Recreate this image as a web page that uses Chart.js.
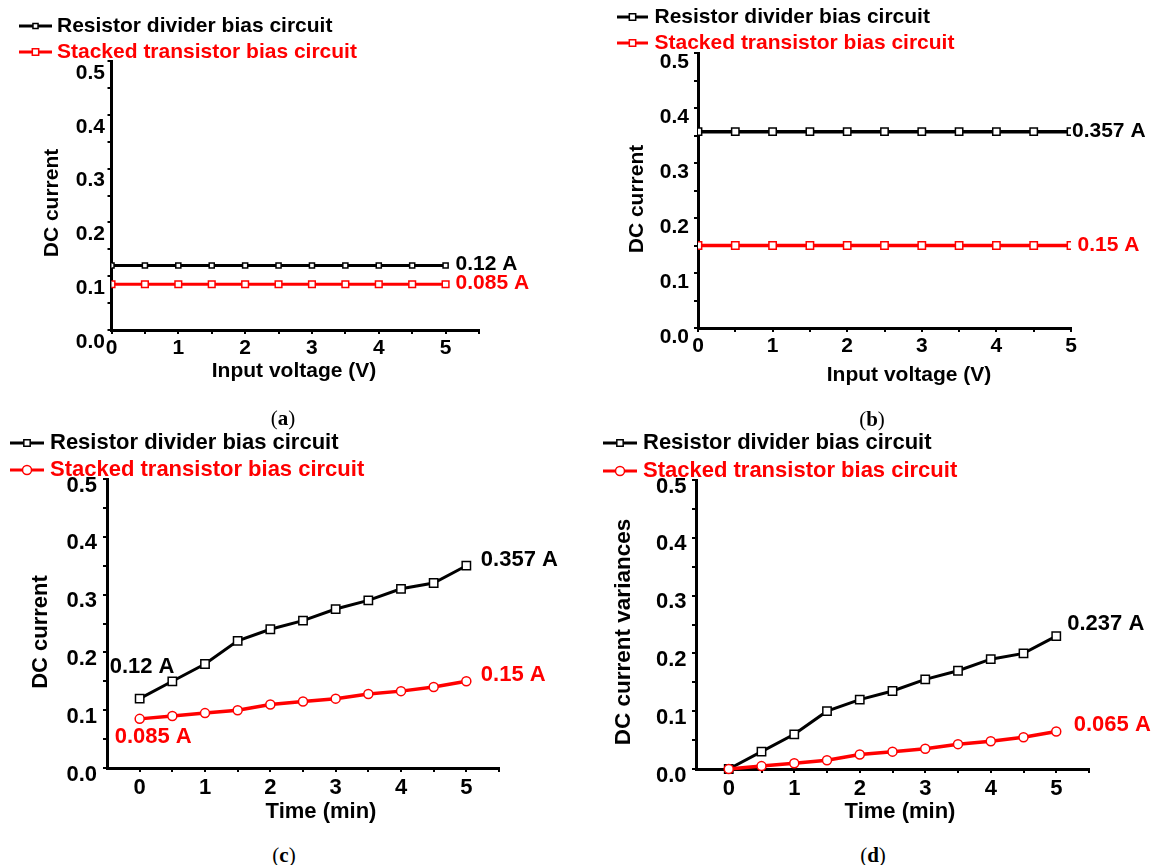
<!DOCTYPE html>
<html lang="en">
<head>
  <meta charset="UTF-8">
  <title>DC current of the two bias circuits</title>
  <script src="https://cdn.jsdelivr.net/npm/chart.js"></script>
  <style>
    body { margin: 0; background: #fff; }
    #fig { position: relative; width: 1156px; height: 865px; overflow: hidden; }
    #fig canvas { position: absolute; }
    .cap { position: absolute; width: 80px; text-align: center; line-height: 24px;
           font: 21px 'Liberation Serif', 'Times New Roman', serif; color: #000; }
  </style>
</head>
<body>
<div id="fig">
  <canvas id="chartA" width="578" height="400" style="left:0;top:0"></canvas>
  <canvas id="chartB" width="578" height="400" style="left:578px;top:0"></canvas>
  <canvas id="chartC" width="578" height="415" style="left:0;top:425px"></canvas>
  <canvas id="chartD" width="578" height="415" style="left:578px;top:425px"></canvas>
  <div class="cap" style="left:243px;top:406px">(<b>a</b>)</div>
  <div class="cap" style="left:832px;top:407px">(<b>b</b>)</div>
  <div class="cap" style="left:244px;top:843px">(<b>c</b>)</div>
  <div class="cap" style="left:833px;top:843px">(<b>d</b>)</div>
</div>

<script>
  // series names
  const seriesNames = ['Resistor divider bias circuit', 'Stacked transistor bias circuit'];

  // x positions (input voltage in V, or time in min)
  const xSteps = [0, 0.5, 1, 1.5, 2, 2.5, 3, 3.5, 4, 4.5, 5];

  // (a) DC current vs input voltage
  const aResistor = [0.12, 0.12, 0.12, 0.12, 0.12, 0.12, 0.12, 0.12, 0.12, 0.12, 0.12];
  const aStacked = [0.085, 0.085, 0.085, 0.085, 0.085, 0.085, 0.085, 0.085, 0.085, 0.085, 0.085];

  // (b) DC current vs input voltage
  const bResistor = [0.357, 0.357, 0.357, 0.357, 0.357, 0.357, 0.357, 0.357, 0.357, 0.357, 0.357];
  const bStacked = [0.15, 0.15, 0.15, 0.15, 0.15, 0.15, 0.15, 0.15, 0.15, 0.15, 0.15];

  // (c) DC current vs time
  const cResistor = [0.12, 0.15, 0.18, 0.22, 0.24, 0.255, 0.275, 0.29, 0.31, 0.32, 0.35];
  const cStacked = [0.085, 0.09, 0.095, 0.1, 0.11, 0.115, 0.12, 0.128, 0.133, 0.14, 0.15];

  // (d) DC current variances vs time
  const dResistor = [0, 0.03, 0.06, 0.1, 0.12, 0.135, 0.155, 0.17, 0.19, 0.2, 0.23];
  const dStacked = [0, 0.005, 0.01, 0.015, 0.025, 0.03, 0.035, 0.043, 0.048, 0.055, 0.065];

  // tick positions (labels only on the whole steps)
  const yTicks = [0, 0.05, 0.1, 0.15, 0.2, 0.25, 0.3, 0.35, 0.4, 0.45, 0.5];
  const xTicksLong = [0, 0.5, 1, 1.5, 2, 2.5, 3, 3.5, 4, 4.5, 5, 5.5];
  const xTicksShort = [0, 0.5, 1, 1.5, 2, 2.5, 3, 3.5, 4, 4.5, 5];

  const FAMILY = "'Liberation Sans', Arial, Helvetica, sans-serif";
  Chart.defaults.font.family = FAMILY;
  Chart.defaults.font.weight = 'bold';
  Chart.defaults.color = '#000';

  function marker(ctx, style, r, x, y) {
    if (Chart.helpers && Chart.helpers.drawPoint) {
      Chart.helpers.drawPoint(ctx, {pointStyle: style, radius: r, borderWidth: 1.5, rotation: 0}, x, y);
      return;
    }
    ctx.beginPath();
    if (style === 'circle') ctx.arc(x, y, r, 0, Math.PI * 2);
    else { const s = r * Math.SQRT1_2; ctx.rect(x - s, y - s, 2 * s, 2 * s); }
    ctx.fill(); ctx.stroke();
  }

  function makePanel(canvasId, p) {
    const pts = ys => xSteps.map((x, i) => ({x: x, y: ys[i]}));
    const colors = ['#000000', '#ff0000'];
    const styles = ['rect', p.redStyle];
    const radii = [p.blackR, p.redR];
    const series = [p.black, p.red];

    const datasets = series.map((ys, i) => ({
      label: seriesNames[i],
      data: pts(ys),
      borderColor: colors[i],
      backgroundColor: '#fff',
      borderWidth: p.lw[i],
      pointStyle: styles[i],
      pointRadius: radii[i],
      pointHoverRadius: radii[i],
      pointBorderWidth: 1.5,
      pointBackgroundColor: '#fff',
      pointBorderColor: colors[i],
      order: 1 - i,
      clip: p.clip
    }));

    // legend, value notes and axis titles drawn on top of the chart
    const textPlugin = {
      id: 'panelText',
      afterDraw(chart) {
        const ctx = chart.ctx;
        const xs = chart.scales.x, ys = chart.scales.y;
        ctx.save();
        ctx.font = 'bold ' + p.font + 'px ' + FAMILY;
        ctx.textBaseline = 'middle';
        ctx.textAlign = 'left';

        chart.data.datasets.forEach((ds, i) => {
          const y = p.legend.rows[i];
          ctx.strokeStyle = ds.borderColor;
          ctx.lineWidth = 3;
          ctx.beginPath();
          ctx.moveTo(p.legend.x1, y);
          ctx.lineTo(p.legend.x2, y);
          ctx.stroke();
          ctx.fillStyle = '#fff';
          ctx.lineWidth = 1.5;
          marker(ctx, ds.pointStyle, Math.min(ds.pointRadius, 4.5), (p.legend.x1 + p.legend.x2) / 2, y);
          ctx.fillStyle = ds.borderColor;
          ctx.fillText(ds.label, p.legend.tx, y);
        });

        p.notes.forEach(n => {
          ctx.fillStyle = n.color;
          ctx.fillText(n.text, xs.getPixelForValue(n.at[0]) + n.dx, ys.getPixelForValue(n.at[1]) + n.dy);
        });

        ctx.fillStyle = '#000';
        ctx.textAlign = 'center';
        ctx.fillText(p.xTitle.text, p.xTitle.x, p.xTitle.y);
        ctx.translate(p.yTitle.x, p.yTitle.y);
        ctx.rotate(-Math.PI / 2);
        ctx.font = 'bold ' + p.yTitle.size + 'px ' + FAMILY;
        ctx.fillText(p.yTitle.text, 0, 0);
        ctx.restore();
      }
    };

    const canvas = document.getElementById(canvasId);
    const a = p.area;
    const axisGrid = {
      display: true, drawOnChartArea: false, drawTicks: true,
      tickLength: 4, tickWidth: 2, tickColor: '#000', color: '#000', lineWidth: 2
    };

    return new Chart(canvas.getContext('2d'), {
      type: 'line',
      data: {datasets: datasets},
      plugins: [textPlugin],
      options: {
        responsive: false,
        animation: false,
        events: [],
        layout: {
          padding: {left: 0, top: a.T, right: canvas.width - a.R, bottom: canvas.height - a.B - 60}
        },
        plugins: {legend: {display: false}, tooltip: {enabled: false}},
        scales: {
          x: {
            type: 'linear',
            position: 'bottom',
            min: p.xMin,
            max: p.xMax,
            afterBuildTicks: s => { s.ticks = p.xTicks.map(v => ({value: v})); },
            afterFit: s => { s.height = 60; },
            border: {display: true, color: '#000', width: 3},
            grid: axisGrid,
            ticks: {
              autoSkip: false, maxRotation: 0, minRotation: 0, padding: p.xPad,
              font: {size: p.font, weight: 'bold'}, color: '#000',
              callback: v => (Math.abs(v - Math.round(v)) < 1e-6 ? String(Math.round(v)) : '')
            }
          },
          y: {
            type: 'linear',
            min: 0,
            max: 0.5,
            afterBuildTicks: s => { s.ticks = yTicks.map(v => ({value: v})); },
            afterFit: s => { s.width = a.L; },
            border: {display: true, color: '#000', width: 3},
            grid: axisGrid,
            ticks: {
              autoSkip: false, padding: p.yPad, labelOffset: p.yLabelOffset,
              font: {size: p.font, weight: 'bold'}, color: '#000',
              callback: v => (Math.abs(v * 10 - Math.round(v * 10)) < 1e-6 ? v.toFixed(1) : '')
            }
          }
        }
      }
    });
  }

  makePanel('chartA', {
    black: aResistor, red: aStacked, redStyle: 'rect', blackR: 3.6, redR: 4.7, lw: [3, 3],
    area: {L: 111.5, R: 479, T: 61, B: 330}, xMin: 0, xMax: 5.5, xTicks: xTicksLong,
    font: 21, xPad: 2, yPad: 2.5, yLabelOffset: 12, clip: 0,
    legend: {x1: 19, x2: 52, tx: 57, rows: [26, 52]},
    notes: [
      {text: '0.12 A', color: '#000', at: [5, aResistor[10]], dx: 10, dy: -1},
      {text: '0.085 A', color: '#ff0000', at: [5, aStacked[10]], dx: 10, dy: -1}
    ],
    xTitle: {text: 'Input voltage (V)', x: 294, y: 371},
    yTitle: {text: 'DC current', x: 52, y: 203, size: 21}
  });

  makePanel('chartB', {
    black: bResistor, red: bStacked, redStyle: 'rect', blackR: 5.2, redR: 5.2, lw: [3.5, 3.5],
    area: {L: 120, R: 493, T: 53, B: 328}, xMin: 0, xMax: 5, xTicks: xTicksShort,
    font: 21, xPad: 2, yPad: 5, yLabelOffset: 9, clip: 0,
    legend: {x1: 39, x2: 70, tx: 76.5, rows: [17, 43]},
    notes: [
      {text: '0.357 A', color: '#000', at: [5, bResistor[10]], dx: 1, dy: 0},
      {text: '0.15 A', color: '#ff0000', at: [5, bStacked[10]], dx: 6.5, dy: 0}
    ],
    xTitle: {text: 'Input voltage (V)', x: 331, y: 375},
    yTitle: {text: 'DC current', x: 59, y: 199, size: 21}
  });

  makePanel('chartC', {
    black: cResistor, red: cStacked, redStyle: 'circle', blackR: 5.9, redR: 4.5, lw: [3, 3.5],
    area: {L: 107, R: 499, T: 54, B: 343}, xMin: -0.5, xMax: 5.5, xTicks: xTicksLong,
    font: 22, xPad: 3, yPad: 6, yLabelOffset: 6.5, clip: false,
    legend: {x1: 10, x2: 44, tx: 50, rows: [18, 45]},
    notes: [
      {text: '0.357 A', color: '#000', at: [5, cResistor[10]], dx: 14.5, dy: -6},
      {text: '0.12 A', color: '#000', at: [0, cResistor[0]], dx: -30, dy: -32},
      {text: '0.15 A', color: '#ff0000', at: [5, cStacked[10]], dx: 14.5, dy: -6.5},
      {text: '0.085 A', color: '#ff0000', at: [0, cStacked[0]], dx: -25, dy: 18}
    ],
    xTitle: {text: 'Time (min)', x: 321, y: 387},
    yTitle: {text: 'DC current', x: 41, y: 207, size: 22}
  });

  makePanel('chartD', {
    black: dResistor, red: dStacked, redStyle: 'circle', blackR: 5.9, redR: 4.5, lw: [3, 3.5],
    area: {L: 118, R: 511, T: 55, B: 344}, xMin: -0.5, xMax: 5.5, xTicks: xTicksLong,
    font: 22, xPad: 3, yPad: 5.5, yLabelOffset: 6.5, clip: false,
    legend: {x1: 25, x2: 59, tx: 65, rows: [18, 46]},
    notes: [
      {text: '0.237 A', color: '#000', at: [5, dResistor[10]], dx: 11, dy: -12},
      {text: '0.065 A', color: '#ff0000', at: [5, dStacked[10]], dx: 17.5, dy: -6.5}
    ],
    xTitle: {text: 'Time (min)', x: 322, y: 387},
    yTitle: {text: 'DC current variances', x: 46, y: 207, size: 22.5}
  });
</script>
</body>
</html>
